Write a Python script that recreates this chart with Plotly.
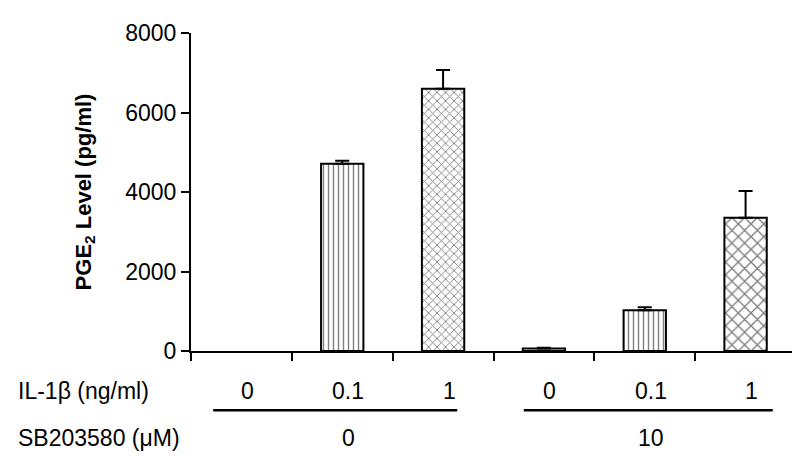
import plotly.graph_objects as go

# Data
il1b_labels = ["0", "0.1", "1", "0", "0.1", "1"]
sb_labels = ["0", "10"]
pge2_values = [0, 4710, 6600, 60, 1025, 3350]
pge2_errors = [0, 75, 470, 20, 75, 675]
patterns = ["", "|", "x", "", "|", "x"]
pattern_sizes = [6, 5, 6, 6, 5, 9]
y_ticks = [0, 2000, 4000, 6000, 8000]

x_pos = list(range(len(pge2_values)))
# a zero value draws no visible bar (nothing to show in the reference)
y_plot = [v if v > 0 else None for v in pge2_values]
err_plot = [e if v > 0 else None for v, e in zip(pge2_values, pge2_errors)]

FONT = "Liberation Sans, Arial, sans-serif"
FS = 23

fig = go.Figure()
fig.add_trace(go.Bar(
    x=x_pos,
    y=y_plot,
    width=0.42,
    marker=dict(
        color="white",
        line=dict(color="black", width=2),
        pattern=dict(shape=patterns, size=pattern_sizes, solidity=0.28,
                     fgcolor="black", bgcolor="white", fillmode="overlay"),
    ),
    error_y=dict(type="data", symmetric=False, array=err_plot,
                 arrayminus=[0 if e is not None else None for e in err_plot],
                 color="black", thickness=2, width=7),
    showlegend=False,
))

fig.update_layout(
    width=800, height=459,
    margin=dict(l=183, r=12, t=25, b=116),
    paper_bgcolor="white", plot_bgcolor="white",
    font=dict(family=FONT, size=FS, color="black"),
)

fig.update_xaxes(
    range=[-0.5, 5.5],
    showline=True, linecolor="black", linewidth=2,
    tickmode="array", tickvals=[i - 0.5 for i in x_pos],
    ticks="outside", ticklen=8, tickwidth=2, tickcolor="black",
    showticklabels=False, showgrid=False, zeroline=False,
)
fig.update_yaxes(
    range=[0, 8000],
    tickmode="array", tickvals=y_ticks,
    showline=True, linecolor="black", linewidth=2,
    ticks="outside", ticklen=8, tickwidth=2, tickcolor="black",
    tickfont=dict(size=FS),
    showgrid=False, zeroline=False,
    title=dict(text="<b>PGE<sub>2</sub> Level (pg/ml)</b>",
               font=dict(size=22), standoff=28),
)

# Row labels
row1_y = -0.126
row2_y = -0.274
fig.add_annotation(text="IL-1β (ng/ml)", xref="paper", yref="paper",
                   x=-0.29, y=row1_y, xanchor="left", yanchor="middle",
                   showarrow=False, font=dict(size=FS))
fig.add_annotation(text="SB203580 (μM)", xref="paper", yref="paper",
                   x=-0.29, y=row2_y, xanchor="left", yanchor="middle",
                   showarrow=False, font=dict(size=FS))

for i, lab in enumerate(il1b_labels):
    fig.add_annotation(text=lab, xref="x", yref="paper", x=i + 0.06, y=row1_y,
                       xanchor="center", yanchor="middle", showarrow=False,
                       font=dict(size=FS))

group_members = [[0, 1, 2], [3, 4, 5]]
for g, members in enumerate(group_members):
    center = sum(members) / len(members)
    fig.add_annotation(text=sb_labels[g], xref="x", yref="paper",
                       x=center + 0.06, y=row2_y, xanchor="center",
                       yanchor="middle", showarrow=False, font=dict(size=FS))
    x0 = members[0] - 0.28 if g == 0 else members[0] - 0.2
    x1 = members[-1] + 0.14 if g == 0 else members[-1] + 0.27
    fig.add_shape(type="line", xref="x", yref="paper", x0=x0, x1=x1,
                  y0=-0.186, y1=-0.186, line=dict(color="black", width=2.5))

fig.write_html("out.html")
